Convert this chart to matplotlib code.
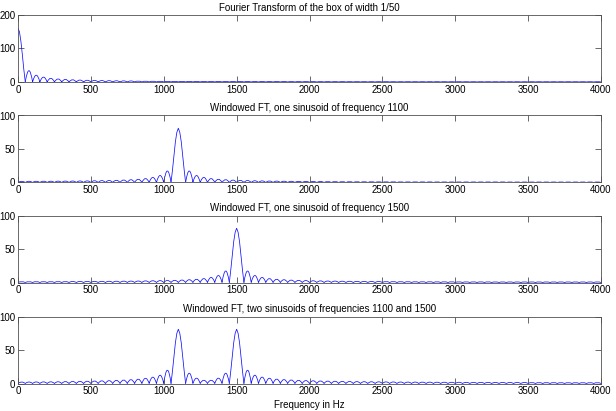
import matplotlib
matplotlib.use('Agg')
import matplotlib.pyplot as plt
from matplotlib.path import Path
from matplotlib.patches import PathPatch

# zeros of every spectrum fall on a 50 Hz grid (box of width 1/50 s)
cell_hz = 50
freq_ticks = [0, 500, 1000, 1500, 2000, 2500, 3000, 3500, 4000]

# peak height of the lobe in each 50 Hz cell, 0..4000 Hz (None = main lobe)
box_lobes = [None,
    34.0, 20.4, 14.6, 11.3, 9.3, 7.9, 6.8, 6.0, 5.4, 4.9,
    4.4, 4.1, 3.8, 3.5, 3.3, 3.1, 2.9, 2.8, 2.6, 2.5,
    2.4, 2.3, 2.2, 2.1, 2.0, 2.0, 1.9, 1.8, 1.8, 1.7,
    1.7, 1.6, 1.6, 1.5, 1.5, 1.5, 1.4, 1.4, 1.4, 1.4,
    1.3, 1.3, 1.3, 1.3, 1.2, 1.2, 1.2, 1.2, 1.2, 1.2,
    1.1, 1.1, 1.1, 1.1, 1.1, 1.1, 1.1, 1.1, 1.1, 1.1,
    1.0, 1.0, 1.0, 1.0, 1.0, 1.0, 1.0, 1.0, 1.0, 1.0,
    1.0, 1.0, 1.0, 1.0, 1.0, 1.0, 1.0, 1.0, 1.0]
box_main_freq = [0, 10, 20, 30, 40, 50]
box_main_mag = [160, 150, 121, 81, 37, 0]

sin1100_lobes = [
    1.8, 1.9, 1.9, 2.0, 2.0, 2.1, 2.2, 2.3, 2.4, 2.5,
    2.7, 2.9, 3.1, 3.4, 3.8, 4.3, 5.0, 6.0, 7.6, 10.5,
    17.3, None, None,
    17.3, 10.5, 7.6, 6.0, 5.0, 4.3, 3.7, 3.3, 3.0, 2.7,
    2.5, 2.3, 2.2, 2.0, 1.9, 1.8, 1.7, 1.6, 1.6, 1.5,
    1.5, 1.4, 1.4, 1.3, 1.3, 1.3, 1.2, 1.2, 1.2, 1.1,
    1.1, 1.1, 1.1, 1.1, 1.0, 1.0, 1.0, 1.0, 1.0, 1.0,
    1.0, 1.0, 1.0, 1.0, 0.9, 0.9, 0.9, 0.9, 0.9, 0.9,
    0.9, 0.9, 0.9, 0.9, 0.9, 0.9, 0.9]

sin1500_lobes = [
    1.3, 1.3, 1.4, 1.4, 1.4, 1.5, 1.5, 1.6, 1.6, 1.7,
    1.7, 1.8, 1.9, 2.0, 2.1, 2.2, 2.3, 2.5, 2.7, 2.9,
    3.1, 3.4, 3.8, 4.3, 5.0, 6.0, 7.6, 10.5, 17.3,
    None, None,
    17.3, 10.5, 7.6, 6.0, 5.0, 4.3, 3.7, 3.3, 3.0, 2.7,
    2.5, 2.3, 2.2, 2.0, 1.9, 1.8, 1.7, 1.6, 1.6, 1.5,
    1.5, 1.4, 1.4, 1.3, 1.3, 1.3, 1.2, 1.2, 1.2, 1.1,
    1.1, 1.1, 1.1, 1.1, 1.0, 1.0, 1.0, 1.0, 1.0, 1.0,
    1.0, 1.0, 1.0, 1.0, 1.0, 1.0, 1.0, 1.0, 1.0]

two_sin_lobes = [
    2.2, 2.3, 2.4, 2.5, 2.6, 2.7, 2.9, 3.1, 3.3, 3.5,
    3.8, 4.1, 4.4, 4.8, 5.3, 5.9, 6.7, 7.8, 9.5, 12.5,
    20.0, None, None,
    15.5, 8.0, 5.0, 5.0, 8.0, 15.5,
    None, None,
    20.0, 12.5, 9.6, 7.9, 6.8, 6.0, 5.4, 4.9, 4.5, 4.2,
    3.9, 3.7, 3.5, 3.3, 3.1, 2.9, 2.8, 2.7, 2.6, 2.5,
    2.4, 2.3, 2.2, 2.2, 2.1, 2.1, 2.0, 2.0, 1.9, 1.9,
    1.8, 1.8, 1.8, 1.7, 1.7, 1.7, 1.6, 1.6, 1.6, 1.5,
    1.5, 1.5, 1.5, 1.4, 1.4, 1.4, 1.4, 1.4, 1.4]

# main lobe of a windowed sinusoid, offsets from its centre frequency
peak_offset = [-50, -40, -30, -20, -10, 0, 10, 20, 30, 40, 50]
peak_mag = [0, 19, 40, 61, 75, 81, 75, 61, 40, 19, 0]

panels = [
    ('Fourier Transform of the box of width 1/50', box_lobes, [], 200, [0, 100, 200]),
    ('Windowed FT, one sinusoid of frequency 1100', sin1100_lobes, [1100], 100, [0, 50, 100]),
    ('Windowed FT, one sinusoid of frequency 1500', sin1500_lobes, [1500], 100, [0, 50, 100]),
    ('Windowed FT, two sinusoids of frequencies 1100 and 1500', two_sin_lobes, [1100, 1500], 100, [0, 50, 100]),
]

blue = '#1010ff'
edge = '#505050'
lw = 0.55
plt.rcParams['font.family'] = ['Liberation Sans', 'DejaVu Sans']

fig = plt.figure(figsize=(6.16, 4.11), dpi=100)
W, H = 616.0, 411.0
tops = [15, 115.5, 215.5, 316.5]
for k, (title, lobes, centres, ymax, yt) in enumerate(panels):
    top = tops[k]
    ax = fig.add_axes([18 / W, 1 - (top + 67) / H, 583 / W, 67 / H])

    # each side lobe as a parabolic arch between two zeros
    verts, codes = [], []
    for j, p in enumerate(lobes):
        if p is None:
            continue
        x0 = j * cell_hz
        verts += [(x0, 0), (x0 + cell_hz / 2, 2 * p), (x0 + cell_hz, 0)]
        codes += [Path.MOVETO, Path.CURVE3, Path.CURVE3]
    ax.add_patch(PathPatch(Path(verts, codes), fill=False, edgecolor=blue, lw=lw))

    if k == 0:
        ax.plot(box_main_freq, box_main_mag, color=blue, lw=lw)
    for c in centres:
        ax.plot([c + o for o in peak_offset], peak_mag, color=blue, lw=lw)

    ax.set_xlim(0, 4000)
    ax.set_ylim(0, ymax)
    ax.set_xticks(freq_ticks)
    ax.set_yticks(yt)
    ax.tick_params(direction='in', top=True, right=True, length=4, width=0.6,
                   labelsize=7, pad=2, colors=edge, labelcolor='black')
    for s in ax.spines.values():
        s.set_color(edge)
        s.set_linewidth(0.6)
    ax.set_title(title, fontsize=7, pad=3)
    if k == 3:
        ax.set_xlabel('Frequency in Hz', fontsize=7, labelpad=3)

fig.savefig('out.png', dpi=100)
